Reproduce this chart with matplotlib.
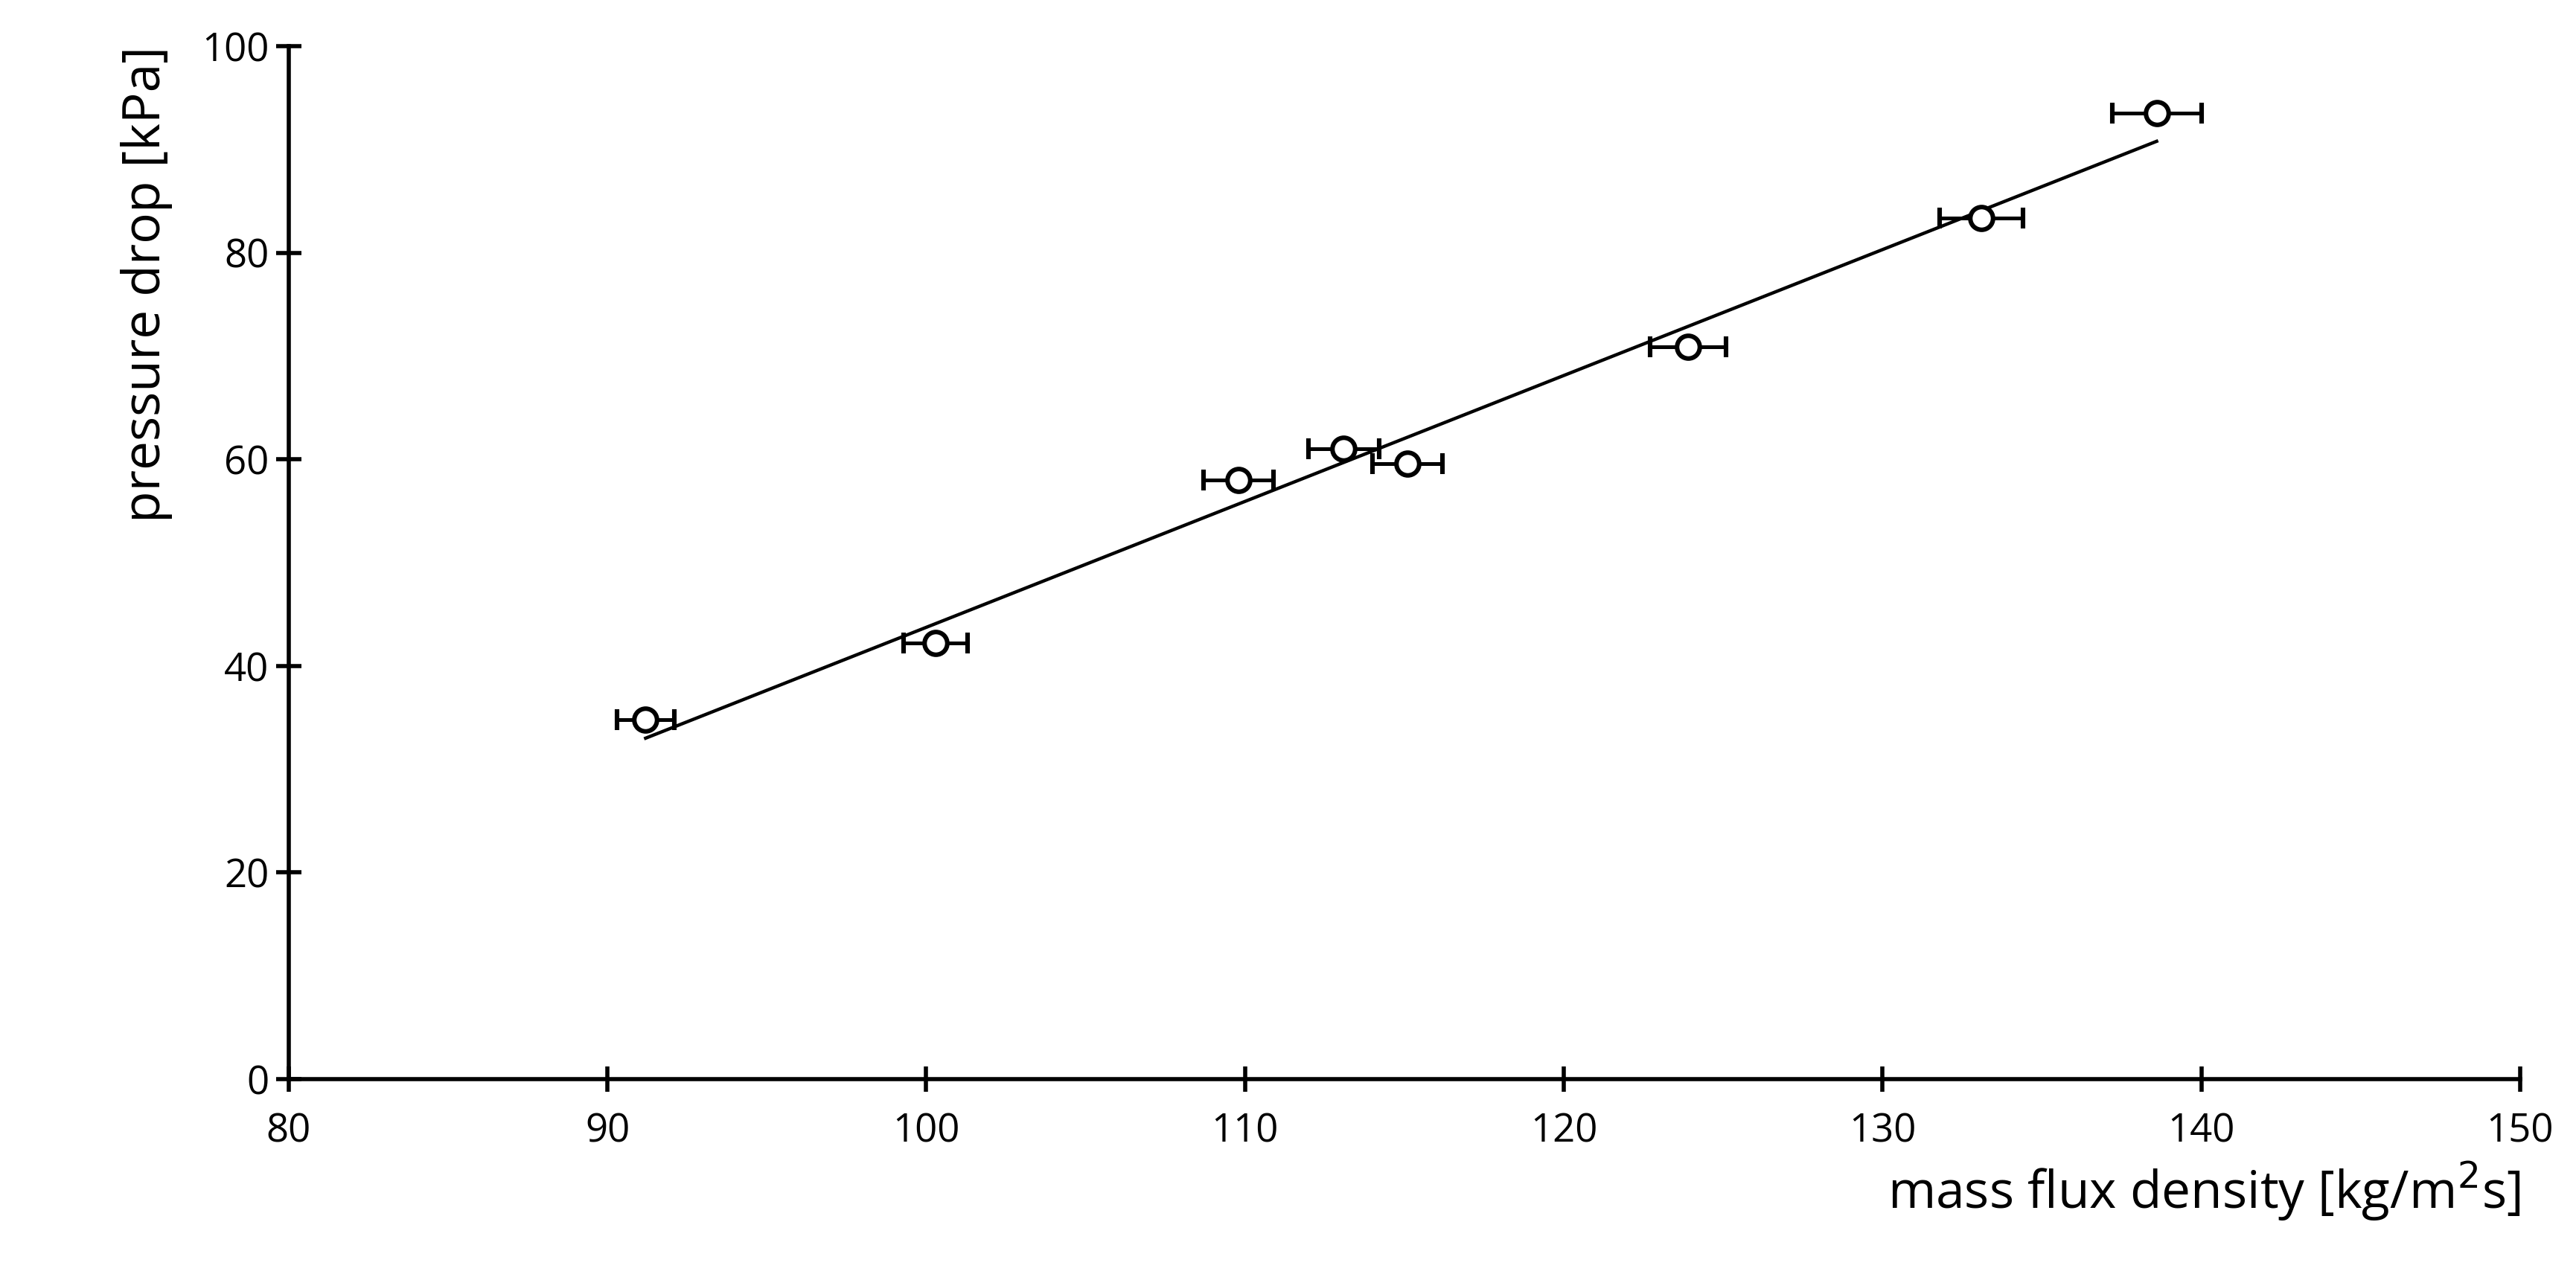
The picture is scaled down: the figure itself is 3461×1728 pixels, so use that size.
import matplotlib
matplotlib.use("Agg")
import matplotlib.pyplot as plt

# measured points
mass_flux = [91.2, 100.3, 109.8, 113.1, 115.1, 123.9, 133.1, 138.6]
pressure_drop = [34.8, 42.2, 58.0, 61.0, 59.6, 70.9, 83.4, 93.5]
flux_err = [0.9, 1.0, 1.1, 1.1, 1.1, 1.2, 1.3, 1.4]

# linear fit line end points
fit_x = [91.2, 138.6]
fit_y = [33.0, 90.8]

plt.rcParams["font.family"] = ["Open Sans", "DejaVu Sans"]

fig = plt.figure(figsize=(17.31, 8.64), dpi=200)
ax = fig.add_axes([0.112, 0.161, 0.866, 0.803])

ax.plot(fit_x, fit_y, color="black", linewidth=1.6, zorder=2)
ax.errorbar(mass_flux, pressure_drop, xerr=flux_err, fmt="o", color="black",
            ecolor="black", elinewidth=1.8, capsize=5, capthick=1.8,
            markersize=11, markerfacecolor="white", markeredgecolor="black",
            markeredgewidth=2.2, zorder=3)

ax.set_xlim(80, 150)
ax.set_ylim(0, 100)
ax.set_xticks(range(80, 151, 10))
ax.set_yticks(range(0, 101, 20))
for s in ("top", "right"):
    ax.spines[s].set_visible(False)
for s in ("left", "bottom"):
    ax.spines[s].set_linewidth(2)
ax.tick_params(direction="inout", length=12, width=2, labelsize=19)
ax.tick_params(axis="x", pad=10)
ax.set_xlabel("mass flux density [kg/m$^2$s]", fontsize=25, loc="right", labelpad=4)
ax.set_ylabel("pressure drop [kPa]", fontsize=25, loc="top", labelpad=14)

fig.savefig("out.png", dpi=200)
